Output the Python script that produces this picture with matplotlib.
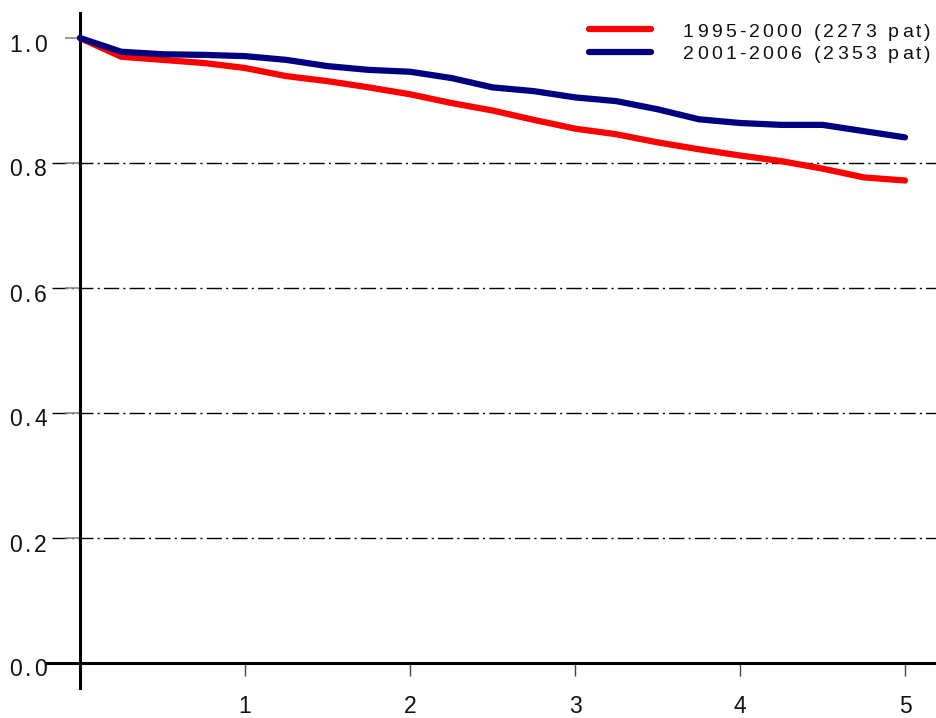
import matplotlib
matplotlib.use("Agg")
import matplotlib.pyplot as plt
from matplotlib.font_manager import FontProperties, findfont, get_font
from matplotlib.transforms import offset_copy

# survival curves, every quarter year
years = [0, 0.25, 0.5, 0.75, 1, 1.25, 1.5, 1.75, 2, 2.25, 2.5, 2.75,
         3, 3.25, 3.5, 3.75, 4, 4.25, 4.5, 4.75, 5]
surv_1995 = [1.0, 0.970, 0.965, 0.960, 0.952, 0.939, 0.931, 0.921, 0.910, 0.896, 0.884,
             0.869, 0.855, 0.846, 0.833, 0.822, 0.812, 0.803, 0.791, 0.777, 0.772]
surv_2001 = [1.0, 0.978, 0.974, 0.973, 0.971, 0.965, 0.955, 0.949, 0.946, 0.936, 0.921,
             0.915, 0.905, 0.899, 0.886, 0.870, 0.864, 0.861, 0.861, 0.851, 0.841]
labels = ["1995-2000 (2273 pat)", "2001-2006 (2353 pat)"]
colors = ["#ff0000", "#000080"]
x_ticks = [1, 2, 3, 4, 5]
y_ticks = [0.0, 0.2, 0.4, 0.6, 0.8, 1.0]
grid_levels = [0.2, 0.4, 0.6, 0.8]

FAMILY = "Liberation Sans"
plt.rcParams['font.family'] = [FAMILY, 'DejaVu Sans']

fig = plt.figure(figsize=(9.37, 7.18), dpi=100)
ax = fig.add_axes([47 / 937, (718 - 688) / 718, 891 / 937, 675 / 718])


def tracked_text(x, y, s, transform, size, track, ha="left", dx=0, dy=0):
    # matplotlib has no letter spacing, so place the characters one by one
    font = get_font(findfont(FontProperties(family=FAMILY, size=size)))
    font.set_size(size, 72)
    adv = [font.load_char(ord(c)).linearHoriAdvance / 65536 for c in s]
    total = sum(adv) + track * (len(s) - 1)
    pos = {"left": 0, "center": -total / 2, "right": -total}[ha]
    for c, a in zip(s, adv):
        tr = offset_copy(transform, fig=fig, x=pos + dx, y=dy, units="points")
        fig.text(x, y, c, transform=tr, fontsize=size, ha="left", va="baseline",
                 color="#111111")
        pos += a + track


ax.hlines(grid_levels, -0.17, 5.2, color="black", lw=1,
          linestyles=[(0, (11, 3, 1.5, 3))], zorder=1)

for ys, col, lab in zip([surv_1995, surv_2001], colors, labels):
    ax.plot(years, ys, color=col, lw=4.5, solid_capstyle="round", label=lab, zorder=3)

ax.set_xlim(-0.2, 5.2)
ax.set_ylim(-0.04, 1.04)

for side in ["top", "right"]:
    ax.spines[side].set_visible(False)
ax.spines["left"].set_position(("data", 0))
ax.spines["bottom"].set_position(("data", 0))
ax.spines["left"].set_linewidth(2.2)
ax.spines["bottom"].set_linewidth(2.2)

ax.set_xticks(x_ticks)
ax.set_xticklabels([])
ax.set_yticks(y_ticks)
ax.set_yticklabels([])
ax.tick_params(axis="x", direction="out", length=9, width=1, color="#444444")
ax.tick_params(axis="y", direction="out", length=11, width=1.2, color="#888888")

# tick labels (px offsets converted to points at 100 dpi)
px = 0.72
for t in x_ticks:
    tracked_text(t, 0, str(t), ax.transData, 16.5, 2.0, ha="center", dy=-50 * px)
for t in y_ticks:
    tracked_text(0, t, f"{t:.1f}", ax.transData, 16.5, 2.0, ha="right",
                 dx=-33 * px, dy=-13.5 * px)

# legend, drawn by hand in figure pixels
for i, (col, lab) in enumerate(zip(colors, labels)):
    yc = 29 + 23 * i
    fig.add_artist(plt.Line2D([589 / 937, 651 / 937], [1 - yc / 718] * 2,
                              color=col, lw=4.5, solid_capstyle="round"))
    tracked_text(683 / 937, 1 - (37 + 22 * i) / 718, lab, fig.transFigure, 14, 2.3)

fig.savefig("out.png", dpi=100)
